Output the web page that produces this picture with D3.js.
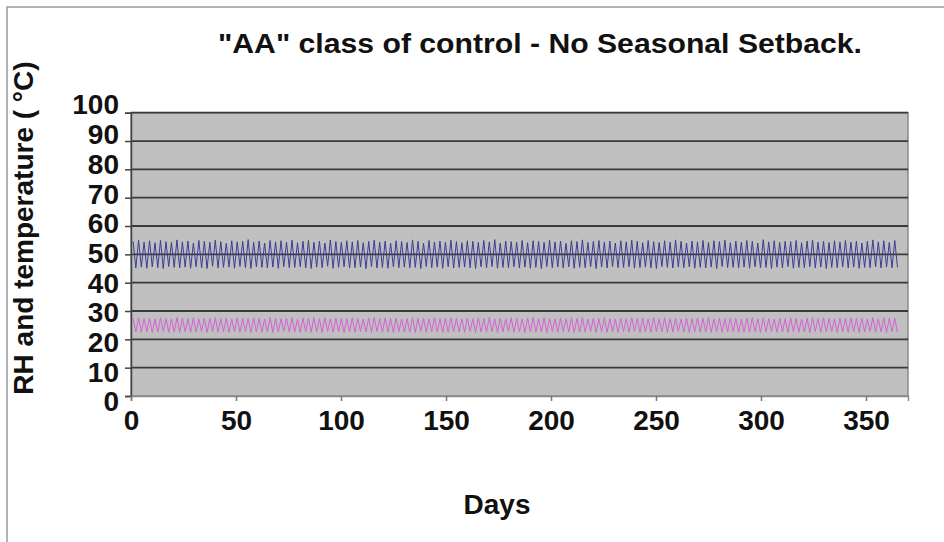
<!DOCTYPE html>
<html>
<head>
<meta charset="utf-8">
<script src="https://cdn.jsdelivr.net/npm/d3@7"></script>
<style>
  body { margin: 0; background: #fff; }
  text { font-family: "Liberation Sans", Arial, sans-serif; font-weight: bold; fill: #111; }
</style>
</head>
<body>
<svg id="chart" width="944" height="542"></svg>
<script>
// Tick values
var yTicks = [0, 10, 20, 30, 40, 50, 60, 70, 80, 90, 100];
var xTicks = [0, 50, 100, 150, 200, 250, 300, 350];

// RH series (blue), one sample about every 1.3 days
var rhValues = [
  54.6,45.2,55.0,45.5,54.3,45.1,54.8,45.6,54.1,45.3,54.9,45.0,54.5,45.7,54.2,45.4,55.1,45.2,54.4,45.5,
  54.7,45.1,54.0,45.6,54.9,45.3,54.6,45.0,54.3,45.8,55.0,45.2,54.5,45.4,53.9,45.5,54.8,45.1,54.4,45.7,
  54.6,45.3,55.2,45.0,54.2,45.6,54.7,45.4,54.0,45.2,54.9,45.5,54.4,45.1,54.8,45.7,54.3,45.3,55.0,45.4,
  54.1,45.6,54.6,45.2,54.9,45.0,54.3,45.5,54.7,45.3,54.0,45.8,55.1,45.1,54.5,45.4,54.2,45.6,54.8,45.2,
  54.4,45.3,54.9,45.5,54.1,45.0,54.6,45.7,55.0,45.2,54.3,45.4,54.7,45.1,53.9,45.6,54.8,45.3,54.5,45.5,
  54.2,45.2,55.1,45.4,54.6,45.0,54.0,45.7,54.9,45.3,54.4,45.5,54.7,45.1,54.3,45.6,55.0,45.2,54.5,45.4,
  54.1,45.5,54.8,45.3,54.6,45.0,54.2,45.6,54.9,45.2,54.4,45.7,55.2,45.1,54.0,45.4,54.7,45.3,54.5,45.6,
  54.3,45.2,54.9,45.5,54.1,45.1,54.8,45.4,54.6,45.0,54.2,45.7,55.0,45.3,54.4,45.5,54.7,45.2,53.9,45.6,
  54.8,45.1,54.5,45.4,55.1,45.3,54.2,45.6,54.6,45.0,54.9,45.5,54.3,45.2,54.7,45.7,54.0,45.3,54.8,45.4,
  54.4,45.6,55.0,45.1,54.6,45.3,54.1,45.5,54.9,45.2,54.5,45.0,54.2,45.7,54.8,45.4,54.3,45.2,55.1,45.5,
  54.6,45.3,54.0,45.6,54.7,45.1,54.4,45.4,54.9,45.2,54.2,45.5,54.8,45.0,54.5,45.7,55.0,45.3,54.1,45.4,
  54.7,45.2,54.3,45.5,54.9,45.1,54.6,45.6,54.0,45.3,55.2,45.4,54.4,45.0,54.8,45.5,54.2,45.2,54.6,45.7,
  54.5,45.1,54.9,45.4,54.1,45.3,54.7,45.6,55.0,45.2,54.3,45.5,54.6,45.0,54.2,45.4,54.8,45.3,54.4,45.6,
  54.9,45.2,54.3,45.5,54.7,45.1,54.0,45.4,54.6,45.3,55.1,45.6,54.4,45.2,54.8,45.5,54.2,45.3,54.9,45.4
];

// Temperature series (magenta)
var tempValues = [
  27.4,22.6,27.6,22.5,27.3,22.7,27.5,22.4,27.2,22.6,27.6,22.8,27.4,22.5,27.3,22.6,27.7,22.4,27.5,22.7,
  27.3,22.5,27.6,22.6,27.2,22.8,27.5,22.4,27.4,22.7,27.7,22.5,27.3,22.6,27.5,22.4,27.2,22.7,27.6,22.5,
  27.4,22.8,27.3,22.4,27.6,22.6,27.5,22.5,27.2,22.7,27.7,22.4,27.4,22.6,27.3,22.8,27.5,22.5,27.6,22.6,
  27.2,22.4,27.5,22.7,27.4,22.5,27.7,22.6,27.3,22.4,27.6,22.8,27.2,22.5,27.5,22.7,27.4,22.4,27.3,22.6,
  27.6,22.5,27.4,22.7,27.2,22.6,27.5,22.4,27.7,22.8,27.3,22.5,27.6,22.6,27.4,22.4,27.5,22.7,27.2,22.5,
  27.3,22.6,27.6,22.4,27.5,22.8,27.4,22.5,27.2,22.7,27.7,22.6,27.3,22.4,27.5,22.5,27.6,22.7,27.4,22.6,
  27.2,22.5,27.5,22.8,27.3,22.4,27.6,22.6,27.4,22.5,27.7,22.7,27.2,22.4,27.5,22.6,27.3,22.8,27.6,22.5,
  27.4,22.6,27.2,22.4,27.5,22.7,27.7,22.5,27.3,22.6,27.6,22.4,27.4,22.8,27.2,22.5,27.5,22.7,27.3,22.6,
  27.6,22.4,27.4,22.5,27.7,22.6,27.2,22.8,27.5,22.4,27.3,22.7,27.6,22.5,27.4,22.6,27.2,22.4,27.5,22.7,
  27.3,22.5,27.6,22.8,27.4,22.4,27.5,22.6,27.2,22.5,27.7,22.7,27.3,22.6,27.6,22.4,27.4,22.5,27.5,22.8,
  27.2,22.6,27.5,22.4,27.3,22.7,27.6,22.5,27.4,22.6,27.7,22.4,27.2,22.8,27.5,22.5,27.3,22.6,27.6,22.7,
  27.4,22.4,27.2,22.6,27.5,22.5,27.7,22.7,27.3,22.4,27.6,22.6,27.4,22.8,27.2,22.5,27.5,22.6,27.3,22.4,
  27.6,22.7,27.4,22.5,27.2,22.6,27.5,22.4,27.7,22.8,27.3,22.5,27.6,22.6,27.4,22.7,27.2,22.4,27.5,22.6,
  27.3,22.5,27.6,22.7,27.4,22.4,27.5,22.6,27.2,22.8,27.7,22.5,27.3,22.6,27.6,22.4,27.4,22.7,27.5,22.5
];

var svg = d3.select('#chart');

// outer frame of the original picture
svg.append('path')
    .attr('d', 'M7,544 V7 H946')
    .attr('fill', 'none')
    .attr('stroke', '#9a9a9a')
    .attr('stroke-width', 1.5);

var plot = { l: 131, r: 908, t: 112.7, b: 396 };

var xScale = d3.scaleLinear().domain([0, 370]).range([plot.l, plot.r]);
var yScale = d3.scaleLinear().domain([0, 100]).range([plot.b, plot.t]);
// labels in the original sit a bit off the gridlines
var yLabelScale = d3.scaleLinear().domain([0, 100]).range([402, 105]);
// sample index -> day
var sampleDay = d3.scaleLinear().domain([0, rhValues.length - 1]).range([1, 365]);

// plot background
svg.append('rect')
    .attr('x', plot.l)
    .attr('y', plot.t)
    .attr('width', plot.r - plot.l)
    .attr('height', plot.b - plot.t)
    .attr('fill', '#c0c0c0')
    .attr('stroke', '#8a8a8a')
    .attr('stroke-width', 1.5);

// gridlines
svg.append('g')
    .selectAll('line')
    .data(yTicks.filter(function (d) { return d > 0; }))
    .enter()
    .append('line')
    .attr('x1', plot.l)
    .attr('x2', plot.r)
    .attr('y1', function (d) { return yScale(d); })
    .attr('y2', function (d) { return yScale(d); })
    .attr('stroke', '#3a3a3a')
    .attr('stroke-width', 1.8);

// series
var line = d3.line()
    .x(function (d, i) { return xScale(sampleDay(i)); })
    .y(function (d) { return yScale(d); });

svg.append('path')
    .datum(rhValues)
    .attr('d', line)
    .attr('fill', 'none')
    .attr('stroke', '#3c3c94')
    .attr('stroke-width', 1);

svg.append('path')
    .datum(tempValues)
    .attr('d', line)
    .attr('fill', 'none')
    .attr('stroke', '#d860d8')
    .attr('stroke-width', 1);

// y axis ticks + line
var yAxisG = svg.append('g')
    .attr('transform', 'translate(' + plot.l + ',0)')
    .call(d3.axisLeft(yScale).tickValues(yTicks).tickSize(6).tickFormat(''));
yAxisG.select('.domain').attr('stroke', '#444').attr('stroke-width', 1.5);
yAxisG.selectAll('.tick line').attr('stroke', '#444').attr('stroke-width', 1.5);

// y labels
var yLabG = svg.append('g')
    .attr('transform', 'translate(' + plot.l + ',0)')
    .call(d3.axisLeft(yLabelScale).tickValues(yTicks).tickSize(0).tickPadding(12));
yLabG.select('.domain').remove();
yLabG.selectAll('text')
    .style('font-family', '"Liberation Sans", Arial, sans-serif')
    .style('font-weight', 'bold')
    .style('font-size', '28px')
    .attr('fill', '#111');

// x axis
var xAxisG = svg.append('g')
    .attr('transform', 'translate(0,' + plot.b + ')')
    .call(d3.axisBottom(xScale).tickValues(xTicks).tickSize(5).tickPadding(9));
xAxisG.select('.domain').attr('stroke', '#8a8a8a').attr('stroke-width', 1.5);
xAxisG.selectAll('.tick line').attr('stroke', '#777').attr('stroke-width', 1.5);
xAxisG.selectAll('text')
    .style('font-family', '"Liberation Sans", Arial, sans-serif')
    .style('font-weight', 'bold')
    .style('font-size', '28px')
    .attr('fill', '#111');

// titles
svg.append('text')
    .attr('x', 540)
    .attr('y', 53)
    .attr('text-anchor', 'middle')
    .style('font-size', '28px')
    .attr('textLength', 644)
    .attr('lengthAdjust', 'spacingAndGlyphs')
    .text('"AA" class of control - No Seasonal Setback.');

svg.append('text')
    .attr('x', 497)
    .attr('y', 514)
    .attr('text-anchor', 'middle')
    .style('font-size', '28px')
    .text('Days');

svg.append('text')
    .attr('transform', 'translate(33,228)rotate(-90)')
    .attr('text-anchor', 'middle')
    .style('font-size', '28px')
    .text('RH and temperature ( °C)');
</script>
</body>
</html>
